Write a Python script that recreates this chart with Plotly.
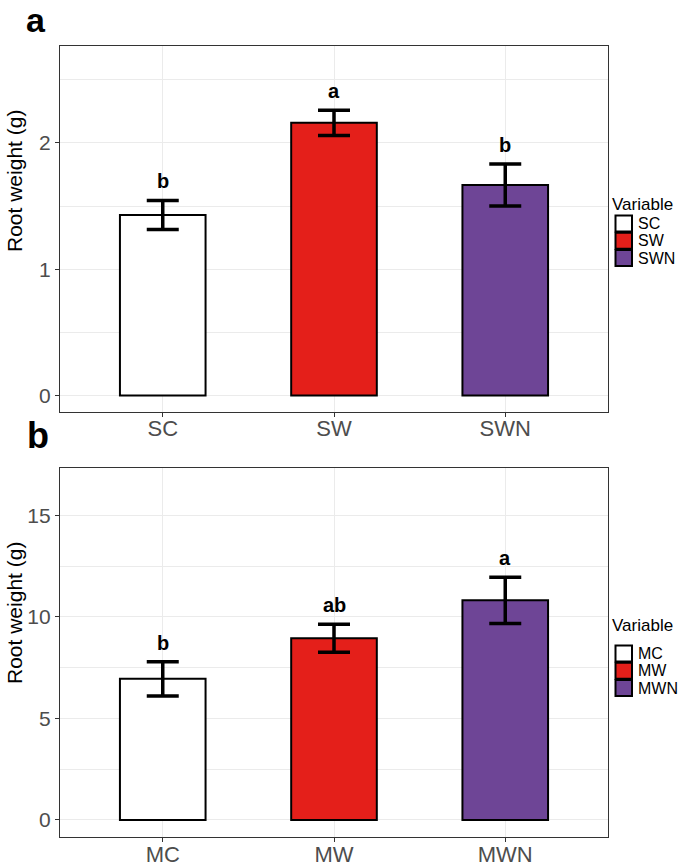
import plotly.graph_objects as go

# ---------------- data ----------------
cats_a = ["SC", "SW", "SWN"]
mean_a = [1.43, 2.16, 1.667]
se_a = [0.115, 0.10, 0.167]
letters_a = ["b", "a", "b"]

cats_b = ["MC", "MW", "MWN"]
mean_b = [6.95, 8.95, 10.82]
se_b = [0.84, 0.69, 1.14]
letters_b = ["b", "ab", "a"]

colors = ["#FFFFFF", "#E41F1A", "#6E4596"]
W, H = 685, 866

fig = go.Figure()

def px_y(p):
    return 1 - p / H

def px_x(p):
    return p / W

panels = [
    dict(cats=cats_a, mean=mean_a, se=se_a, letters=letters_a, xa="x", ya="y",
         leg_title=204.5, leg_top=215),
    dict(cats=cats_b, mean=mean_b, se=se_b, letters=letters_b, xa="x2", ya="y2",
         leg_title=625, leg_top=645),
]

for p in panels:
    for c, m, s, col in zip(p["cats"], p["mean"], p["se"], colors):
        fig.add_trace(go.Bar(
            x=[c], y=[m], name=c, width=0.5,
            marker=dict(color=col, line=dict(color="black", width=2)),
            error_y=dict(type="data", array=[s], visible=True, color="black", thickness=3.5, width=16),
            xaxis=p["xa"], yaxis=p["ya"], showlegend=False,
        ))
    for c, m, s, l in zip(p["cats"], p["mean"], p["se"], p["letters"]):
        fig.add_annotation(x=c, y=m + s, text="<b>%s</b>" % l, showarrow=False,
                           xref=p["xa"], yref=p["ya"], yanchor="middle", yshift=19,
                           font=dict(size=20, color="black"))
    # legend (drawn as key boxes + labels)
    fig.add_annotation(text="Variable", xref="paper", yref="paper", x=px_x(610), y=px_y(p["leg_title"]),
                       xanchor="left", yanchor="middle", showarrow=False, font=dict(size=17, color="black"))
    for i, (c, col) in enumerate(zip(p["cats"], colors)):
        top = p["leg_top"] + i * 17.3
        fig.add_shape(type="rect", xref="paper", yref="paper",
                      x0=px_x(615.5), x1=px_x(632), y0=px_y(top + 16.5), y1=px_y(top + 0.5),
                      fillcolor=col, line=dict(color="black", width=2))
        fig.add_annotation(text=c, xref="paper", yref="paper", x=px_x(636), y=px_y(top + 8.6),
                           xanchor="left", yanchor="middle", showarrow=False,
                           font=dict(size=16, color="black"))

grid = "#EBEBEB"
axis_common = dict(showline=True, mirror=True, linecolor="#333333", linewidth=1.3,
                   ticks="outside", ticklen=4, tickcolor="#333333", tickwidth=1,
                   automargin=False,
                   showgrid=True, gridcolor=grid, gridwidth=1.2, zeroline=False)
xfont = dict(size=22, color="#4D4D4D")
yfont = dict(size=21, color="#4D4D4D")

xdom = [px_x(60), px_x(608)]
fig.update_layout(
    width=W, height=H, margin=dict(l=0, r=0, t=0, b=0, autoexpand=False),
    paper_bgcolor="white", plot_bgcolor="white",
    font=dict(family="Arial, Liberation Sans, sans-serif", color="black"),
    barmode="overlay", showlegend=False,
    xaxis=dict(domain=xdom, anchor="y", range=[-0.6, 2.6], type="category",
               tickfont=xfont, ticklabelstandoff=-7, **axis_common),
    yaxis=dict(domain=[px_y(411.5), px_y(45.5)], anchor="x", range=[-0.127, 2.772],
               tickvals=[0, 1, 2], tickfont=yfont,
               minor=dict(dtick=0.5, tick0=0, showgrid=True, gridcolor=grid, gridwidth=0.6, ticks=""),
               **axis_common),
    xaxis2=dict(domain=xdom, anchor="y2", range=[-0.6, 2.6], type="category",
                tickfont=xfont, ticklabelstandoff=-7, **axis_common),
    yaxis2=dict(domain=[px_y(837), px_y(467.5)], anchor="x2", range=[-0.84, 17.36],
                tickvals=[0, 5, 10, 15], tickfont=yfont,
                minor=dict(dtick=2.5, tick0=0, showgrid=True, gridcolor=grid, gridwidth=0.6, ticks=""),
                **axis_common),
)

# y axis titles and panel labels
for yc in (181, 613):
    fig.add_annotation(text="Root weight (g)", xref="paper", yref="paper", x=px_x(14), y=px_y(yc),
                       xanchor="center", yanchor="middle",
                       textangle=-90, showarrow=False, font=dict(size=21, color="black"))
fig.add_annotation(text="<b>a</b>", xref="paper", yref="paper", x=px_x(25), y=1,
                   xanchor="left", yanchor="top", showarrow=False, borderpad=0,
                   font=dict(size=34, color="black"))
fig.add_annotation(text="<b>b</b>", xref="paper", yref="paper", x=px_x(25), y=px_y(435),
                   xanchor="left", yanchor="middle", showarrow=False, font=dict(size=36, color="black"))

fig.write_html("out.html", config={"displayModeBar": False},
               post_script="document.body.style.margin='0';document.body.style.overflow='hidden';")
